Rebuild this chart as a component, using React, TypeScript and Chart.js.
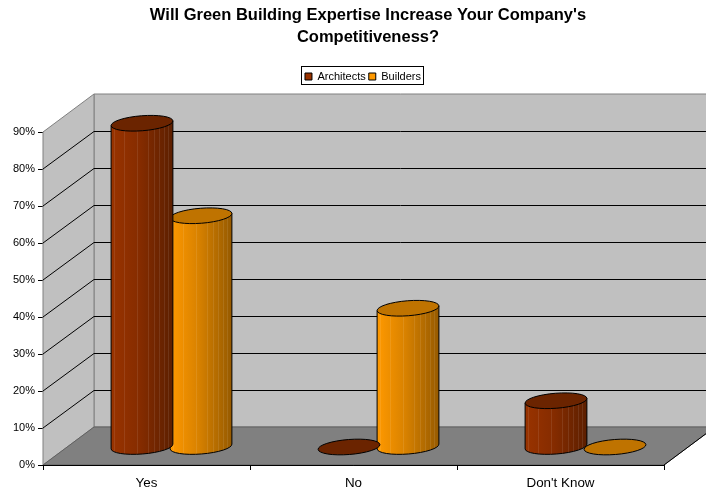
import React, { useEffect, useRef } from "react";
import { Chart, registerables } from "chart.js";

Chart.register(...registerables);

const categories = ["Yes", "No", "Don't Know"];
const architects = [87.5, 0, 12.5];
const builders = [62.5, 37.5, 0];
const yTicksMax = 90;
const titleLines = ["Will Green Building Expertise Increase Your Company's", "Competitiveness?"];

const FONT = "'Liberation Sans', Arial, sans-serif";
const DEPTH_X = 51;
const DEPTH_Y = -38;
const BAR_DX = 25;
const BAR_DY = -18;
const TILT = (-4.5 * Math.PI) / 180;
const streaks = [0.05, 0.21, 0.42, 0.6, 0.7, 0.78, 0.85, 0.92];

const palette: Record<string, { stops: string[]; cap: string }> = {
  Architects: { stops: ["#993300", "#862c00", "#5c1f00"], cap: "#6b2400" },
  Builders: { stops: ["#ff9900", "#d98200", "#965a00"], cap: "#bf7300" },
};

const drawCylinders = {
  id: "cylinders",
  beforeDatasetDraw(chart: any, args: any) {
    const ctx: CanvasRenderingContext2D = chart.ctx;
    const meta = chart.getDatasetMeta(args.index);
    const colors = palette[chart.data.datasets[args.index].label];
    ctx.save();
    ctx.translate(BAR_DX, BAR_DY);
    ctx.strokeStyle = "#000";
    ctx.lineWidth = 1;
    for (const el of meta.data as any[]) {
      const a = el.width / 2 + 1.5;
      const b = 7.5;
      const ex = a * Math.cos(TILT);
      const ey = a * Math.sin(TILT);
      if (el.base - el.y > 0.5) {
        ctx.save();
        ctx.beginPath();
        ctx.moveTo(el.x - ex, el.y - ey);
        ctx.lineTo(el.x - ex, el.base - ey);
        ctx.ellipse(el.x, el.base, a, b, TILT, Math.PI, 0, true);
        ctx.lineTo(el.x + ex, el.y + ey);
        ctx.closePath();
        const g = ctx.createLinearGradient(el.x - a, 0, el.x + a, 0);
        g.addColorStop(0, colors.stops[0]);
        g.addColorStop(0.45, colors.stops[1]);
        g.addColorStop(1, colors.stops[2]);
        ctx.fillStyle = g;
        ctx.fill();
        ctx.clip();
        ctx.fillStyle = "rgba(255,255,255,0.09)";
        for (const s of streaks) {
          ctx.fillRect(Math.round(el.x - a + s * 2 * a), el.y - b, 1, el.base - el.y + 2 * b);
        }
        ctx.restore();
        ctx.beginPath();
        ctx.moveTo(el.x - ex, el.y - ey);
        ctx.lineTo(el.x - ex, el.base - ey);
        ctx.ellipse(el.x, el.base, a, b, TILT, Math.PI, 0, true);
        ctx.lineTo(el.x + ex, el.y + ey);
        ctx.stroke();
      }
      ctx.beginPath();
      ctx.ellipse(el.x, el.y, a, b, TILT, 0, Math.PI * 2);
      ctx.fillStyle = colors.cap;
      ctx.fill();
      ctx.stroke();
    }
    ctx.restore();
    return false;
  },
};

const drawWalls = {
  id: "walls",
  afterLayout(chart: any) {
    const title = chart.titleBlock;
    title.left += 36;
    title.right += 36;
    const legend = chart.legend;
    const h = legend.height;
    legend.left += 31;
    legend.right += 31;
    legend.top = 68;
    legend.bottom = 68 + h;
  },
  beforeDatasetsDraw(chart: any) {
    const ctx: CanvasRenderingContext2D = chart.ctx;
    const y = chart.scales.y;
    const { left, right, top, bottom } = chart.chartArea;
    const bl = left + DEPTH_X;
    const br = right + DEPTH_X;
    const bt = top + DEPTH_Y;
    const bb = bottom + DEPTH_Y;
    const poly = (pts: number[][], fill: string, stroke: string) => {
      ctx.beginPath();
      pts.forEach((p, i) => (i ? ctx.lineTo(p[0], p[1]) : ctx.moveTo(p[0], p[1])));
      ctx.closePath();
      ctx.fillStyle = fill;
      ctx.fill();
      ctx.strokeStyle = stroke;
      ctx.lineWidth = 1;
      ctx.stroke();
    };
    ctx.save();
    poly([[bl, bt], [br, bt], [br, bb], [bl, bb]], "#c0c0c0", "#808080");
    poly([[left, top], [bl, bt], [bl, bb], [left, bottom]], "#c0c0c0", "#808080");
    ctx.strokeStyle = "#000";
    ctx.lineWidth = 1;
    for (const t of y.ticks) {
      if (t.value === 0 || t.value === yTicksMax) continue;
      const py = Math.round(y.getPixelForValue(t.value));
      ctx.beginPath();
      ctx.moveTo(left, py);
      ctx.lineTo(bl, py + DEPTH_Y + 0.5);
      ctx.lineTo(br, py + DEPTH_Y + 0.5);
      ctx.stroke();
    }
    poly([[left, bottom], [bl, bb], [br, bb], [right, bottom]], "#808080", "#606060");
    ctx.strokeStyle = "#000";
    ctx.beginPath();
    ctx.moveTo(right, bottom);
    ctx.lineTo(br, bb);
    ctx.stroke();
    ctx.beginPath();
    ctx.moveTo(left, bottom + 0.5);
    ctx.lineTo(right, bottom + 0.5);
    ctx.stroke();
    ctx.restore();
  },
  afterDraw(chart: any) {
    const ctx: CanvasRenderingContext2D = chart.ctx;
    const boxes = chart.legend.legendHitBoxes;
    const l = Math.min(...boxes.map((b: any) => b.left));
    const last = boxes[boxes.length - 1];
    const r = last.left + last.width;
    ctx.save();
    ctx.strokeStyle = "#000";
    ctx.lineWidth = 1;
    ctx.strokeRect(Math.round(l) - 3.5, 66.5, Math.round(r - l) + 6, 18);
    ctx.restore();
  },
};

export default function App() {
  const ref = useRef<HTMLCanvasElement>(null);
  useEffect(() => {
    document.body.style.margin = "0";
    document.body.style.background = "#fff";
    const chart = new Chart(ref.current!, {
      type: "bar",
      data: {
        labels: categories,
        datasets: [
          { label: "Architects", data: architects, backgroundColor: "#993300", borderColor: "#000", borderWidth: 1, clip: false } as any,
          { label: "Builders", data: builders, backgroundColor: "#ff9900", borderColor: "#000", borderWidth: 1, clip: false } as any,
        ],
      },
      options: {
        responsive: false,
        animation: false,
        barPercentage: 1,
        categoryPercentage: 0.57,
        layout: { padding: { left: 0, right: 42, top: 0, bottom: 0 } },
        plugins: {
          tooltip: { enabled: false },
          title: {
            display: true,
            text: titleLines,
            color: "#000",
            font: { family: FONT, size: 16.5, weight: "bold", lineHeight: "22px" },
            padding: { top: 4, bottom: 60 },
          },
          legend: {
            display: true,
            position: "top",
            labels: {
              color: "#000",
              font: { family: FONT, size: 11, lineHeight: "14px" },
              boxWidth: 7,
              boxHeight: 7,
              padding: 3,
            },
          },
        },
        scales: {
          x: {
            afterFit: (s: any) => { s.height = 26; },
            grid: { drawOnChartArea: false, drawTicks: true, tickLength: 5, color: "#000" },
            border: { color: "#000" },
            ticks: { color: "#000", font: { family: FONT, size: 13.4 }, padding: 5, maxRotation: 0 },
          },
          y: {
            min: 0,
            max: yTicksMax,
            afterFit: (s: any) => { s.width = 43; },
            grid: { drawOnChartArea: false, drawTicks: true, tickLength: 5, color: "#000" },
            border: { color: "#444", width: 1 },
            ticks: { stepSize: 10, color: "#000", font: { family: FONT, size: 11 }, padding: 3, callback: (v: any) => v + "%" },
          },
        },
      },
      plugins: [drawWalls, drawCylinders],
    } as any);
    return () => chart.destroy();
  }, []);
  return <canvas ref={ref} width={706} height={491} style={{ display: "block" }} />;
}
